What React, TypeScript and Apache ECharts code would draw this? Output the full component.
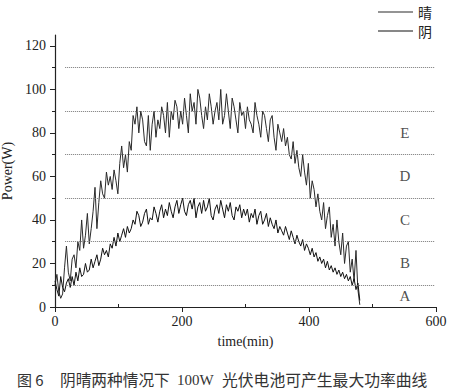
import React, { useEffect, useRef } from "react";
import * as echarts from "echarts";

// Sampled every 3 minutes, t = 0 .. 480 min
const sunny = [
  10, 15, 7, 4, 6, 18, 28, 16, 12, 22, 24, 18, 30, 26, 40, 27, 33, 43, 29, 36,
  44, 55, 36, 48, 58, 52, 50, 62, 56, 60, 54, 63, 58, 52, 66, 74, 64, 70, 62, 76,
  72, 88, 84, 92, 80, 90, 86, 76, 74, 88, 72, 84, 90, 78, 86, 82, 92, 88, 80, 94,
  78, 90, 86, 95, 92, 82, 90, 84, 96, 88, 80, 98, 90, 94, 84, 100, 96, 88, 82, 92,
  86, 98, 92, 84, 90, 94, 86, 100, 84, 88, 98, 90, 82, 96, 92, 86, 80, 94, 88, 90,
  82, 92, 86, 84, 80, 94, 88, 84, 78, 90, 88, 82, 76, 86, 88, 78, 72, 84, 80, 76,
  82, 74, 78, 70, 68, 76, 66, 72, 64, 60, 70, 62, 56, 66, 50, 58, 54, 46, 52, 44,
  40, 48, 36, 42, 46, 32, 38, 28, 40, 30, 24, 34, 20, 28, 30, 16, 22, 12, 26, 8,
  1,
];
const cloudy = [
  12, 8, 5, 14, 9, 7, 11, 13, 9, 14, 10, 16, 12, 18, 14, 15, 20, 16, 17, 22,
  18, 21, 24, 19, 22, 27, 24, 26, 23, 29, 27, 32, 28, 34, 30, 33, 36, 32, 37, 34,
  36, 40, 38, 44, 42, 37, 39, 43, 45, 38, 41, 40, 46, 43, 39, 44, 47, 41, 45, 42,
  48, 44, 41, 46, 49, 43, 47, 50, 44, 42, 47, 49, 45, 50, 41, 46, 48, 43, 49, 44,
  46, 50, 42, 40, 45, 47, 43, 49, 45, 41, 47, 44, 48, 42, 40, 46, 44, 47, 41, 45,
  42, 45, 39, 43, 41, 45, 38, 42, 44, 38, 40, 43, 37, 41, 38, 36, 40, 34, 37, 35,
  33, 37, 34, 31, 35, 32, 29, 33, 30, 28, 31, 26, 29, 27, 24, 27, 23, 25, 21, 23,
  20, 22, 18, 21, 17, 19, 16, 18, 15, 17, 14, 16, 13, 15, 12, 14, 10, 13, 8, 11,
  3,
];
const stepMin = 3;
const seriesNames = ["晴", "阴"];
const levels = [10, 30, 50, 70, 90, 110];
const zoneLabels = ["A", "B", "C", "D", "E"];
const zoneY = [5, 20, 40, 60, 80];
const zoneX = 551;
const yMajor = [0, 20, 40, 60, 80, 100, 120];
const yMinor = [10, 30, 50, 70, 90, 110];
const xMinor = [100, 300, 500];
const xLabel = "time(min)";
const yLabel = "Power(W)";
const captionParts = ["图 6", "阴晴两种情况下", "100W", "光伏电池可产生最大功率曲线"];

const serif = "'Liberation Serif', 'DejaVu Serif', serif";
const cjk = "'Noto Sans CJK SC', sans-serif";

export default function App() {
  const ref = useRef<HTMLDivElement>(null);
  useEffect(() => {
    if (!ref.current) return;
    const chart = echarts.init(ref.current, undefined, { renderer: "svg" });
    const toPairs = (arr: number[]) => arr.map((v, i) => [i * stepMin, v]);
    chart.setOption({
      animation: false,
      backgroundColor: "#fff",
      grid: { left: 55, right: 36, top: 35, bottom: 85, containLabel: false, outerBoundsMode: "none" },
      legend: {
        data: seriesNames.map((n) => ({ name: n, icon: "rect" })),
        orient: "vertical",
        left: 373,
        top: 0,
        itemWidth: 35,
        itemHeight: 1,
        itemGap: 5,
        textStyle: { fontFamily: cjk, fontSize: 14, lineHeight: 14, color: "#222" },
      },
      xAxis: [
        {
          type: "value",
          min: 0,
          max: 600,
          interval: 200,
          name: xLabel,
          nameLocation: "middle",
          nameGap: 27,
          nameTextStyle: { fontFamily: serif, fontSize: 14, color: "#222" },
          axisLine: { lineStyle: { color: "#222", width: 1.2 } },
          axisTick: { length: 5, lineStyle: { color: "#222" } },
          axisLabel: { margin: 7, fontFamily: serif, fontSize: 14, color: "#222" },
          splitLine: { show: false },
        },
        {
          type: "value",
          min: 0,
          max: 600,
          position: "bottom",
          axisLine: { show: false },
          axisLabel: { show: false },
          axisTick: { inside: true, length: 3, customValues: xMinor, lineStyle: { color: "#222" } },
          splitLine: { show: false },
        },
      ],
      yAxis: [
        {
          type: "value",
          min: 0,
          max: 125,
          name: yLabel,
          nameLocation: "middle",
          nameGap: 40,
          nameTextStyle: { fontFamily: serif, fontSize: 14, color: "#222" },
          axisLine: { show: true, lineStyle: { color: "#222", width: 1.2 } },
          axisTick: { show: true, length: 5, customValues: yMajor, lineStyle: { color: "#222" } },
          axisLabel: { margin: 9, customValues: yMajor, fontFamily: serif, fontSize: 14, color: "#222" },
          splitLine: { show: false },
        },
        {
          type: "value",
          min: 0,
          max: 125,
          position: "left",
          axisLine: { show: false },
          axisLabel: { show: false },
          axisTick: { show: true, length: 3, customValues: yMinor, lineStyle: { color: "#222" } },
          splitLine: { show: false },
        },
      ],
      series: [
        {
          name: seriesNames[0],
          type: "line",
          symbol: "none",
          data: toPairs(sunny),
          lineStyle: { color: "#2a2a2a", width: 1 },
          itemStyle: { color: "#2a2a2a" },
          markLine: {
            silent: true,
            symbol: "none",
            label: { show: false },
            lineStyle: { type: "dotted", color: "#777", width: 1 },
            data: levels.map((v) => [{ coord: [16, v] }, { coord: [598, v] }]),
          },
        },
        {
          name: seriesNames[1],
          type: "line",
          symbol: "none",
          data: toPairs(cloudy),
          lineStyle: { color: "#111", width: 1 },
          itemStyle: { color: "#111" },
        },
        {
          type: "scatter",
          symbolSize: 1,
          itemStyle: { color: "rgba(0,0,0,0)" },
          data: zoneY.map((y, i) => [zoneX, y, zoneLabels[i]]),
          label: {
            show: true,
            position: "inside",
            formatter: (p: any) => p.data[2],
            fontFamily: serif,
            fontSize: 15,
            color: "#222",
          },
          silent: true,
        },
      ],
      graphic: [
        { type: "text", left: 17, top: 372, style: { text: captionParts[0], font: `15px ${cjk}`, fill: "#333" } },
        { type: "text", left: 60, top: 372, style: { text: captionParts[1], font: `15.7px ${cjk}`, fill: "#333" } },
        { type: "text", left: 177, top: 372, style: { text: captionParts[2], font: `15px ${serif}`, fill: "#333" } },
        { type: "text", left: 222, top: 372, style: { text: captionParts[3], font: `15.8px ${cjk}`, fill: "#333" } },
      ],
    });
    return () => chart.dispose();
  }, []);
  return (
    <div
      ref={ref}
      style={{ position: "fixed", left: 0, top: 0, width: 472, height: 392 }}
    />
  );
}
